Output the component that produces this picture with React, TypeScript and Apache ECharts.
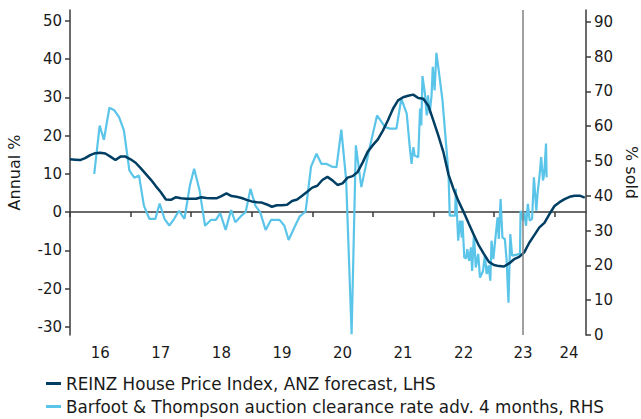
import React, { useEffect, useRef } from "react";
import * as echarts from "echarts";

// REINZ House Price Index (annual %), monthly from Jan 2016
const hpiStartYear = 2016;
const hpiValues = [
  13.8, 13.7, 13.6, 14.1, 14.9, 15.4, 15.5, 15.3, 14.5, 13.6, 14.5, 14.5,
  13.8, 12.9, 11.5, 10.0, 8.5, 6.8, 5.2, 3.3, 3.2, 3.9, 3.6, 3.5,
  3.5, 3.5, 3.9, 3.7, 3.6, 3.6, 4.2, 4.9, 4.2, 4.0, 3.7, 3.2,
  2.8, 2.6, 2.5, 2.0, 1.4, 1.8, 1.8, 1.9, 2.9, 3.3, 4.3, 5.3,
  6.4, 6.9, 8.4, 9.2, 8.3, 7.1, 7.5, 9.0, 9.4, 10.5, 13.0, 15.8,
  17.5, 19.0, 21.3, 24.0, 27.0, 29.2, 30.0, 30.4, 30.7, 29.8, 29.6, 27.8,
  23.9, 19.9, 15.6, 9.8, 6.0, 2.8, 0.0, -3.0, -5.9, -8.7, -10.9, -13.0,
  -13.8, -14.1, -14.2, -13.4, -12.3, -11.7, -10.5, -8.0, -6.0, -4.0, -2.8, -0.5,
  1.6, 2.6, 3.4, 4.0, 4.3, 4.3, 3.8,
];

// Barfoot & Thompson clearance rate (% sold), advanced 4 months
const clearanceDates = [
  2016.40, 2016.49, 2016.56, 2016.65, 2016.73, 2016.81, 2016.89, 2016.98,
  2017.06, 2017.14, 2017.22, 2017.31, 2017.41, 2017.48, 2017.56, 2017.64, 2017.72, 2017.80, 2017.89, 2017.98,
  2018.05, 2018.14, 2018.23, 2018.33, 2018.41, 2018.48, 2018.57, 2018.66, 2018.73, 2018.83, 2018.90, 2018.98,
  2019.06, 2019.14, 2019.23, 2019.32, 2019.46, 2019.54, 2019.61, 2019.71, 2019.79, 2019.89, 2019.98,
  2020.07, 2020.15, 2020.23, 2020.32, 2020.40, 2020.48, 2020.56, 2020.65, 2020.72, 2020.81, 2020.95,
  2021.07, 2021.20, 2021.28, 2021.39, 2021.47, 2021.56, 2021.61, 2021.64, 2021.67, 2021.69, 2021.75,
  2021.78, 2021.80, 2021.82, 2021.86, 2021.89, 2021.91, 2021.94, 2021.97, 2021.99,
  2022.02, 2022.05, 2022.08, 2022.15, 2022.25, 2022.27, 2022.36, 2022.37, 2022.41, 2022.44, 2022.47, 2022.48,
  2022.51, 2022.54, 2022.56, 2022.59, 2022.62, 2022.64, 2022.67, 2022.70, 2022.74, 2022.77, 2022.82, 2022.85,
  2022.88, 2022.91, 2022.94, 2022.96, 2022.99,
  2023.02, 2023.06, 2023.08, 2023.11, 2023.14, 2023.18, 2023.21, 2023.24, 2023.27, 2023.30, 2023.38, 2023.43,
  2023.44, 2023.48, 2023.50, 2023.53, 2023.56, 2023.59, 2023.63, 2023.66, 2023.70, 2023.72, 2023.75, 2023.78,
  2023.81, 2023.83, 2023.86, 2023.87,
];
const clearanceValues = [
  46.3, 60.2, 56.1, 65.3, 64.6, 62.6, 58.8, 47.3,
  45.2, 45.8, 37.2, 33.4, 33.4, 37.8, 33.4, 31.4, 33.4, 35.7, 33.4, 43.0,
  47.8, 41.5, 31.4, 33.1, 33.1, 35.0, 30.2, 35.9, 32.4, 34.3, 35.3, 42.0,
  37.2, 35.3, 30.2, 33.1, 33.1, 31.4, 27.3, 31.1, 34.0, 35.5, 48.4,
  52.1, 49.2, 49.2, 48.4, 48.2, 59.0, 44.5, 0.2, 54.5, 42.5, 54.0,
  63.1, 59.8, 59.3, 59.3, 67.9, 63.6, 54.0, 49.2, 54.0, 51.6, 51.1,
  65.1, 60.2, 74.4, 69.4, 63.1, 68.9, 63.6, 68.9, 77.1,
  70.3, 81.1, 77.1, 67.5, 46.3, 34.3, 34.3, 42.0, 27.1, 32.9, 28.0, 32.9,
  22.3, 22.0, 24.7, 21.3, 25.2, 18.4, 29.0, 19.4, 23.3, 16.5, 18.4, 22.8,
  17.5, 20.0, 15.6, 27.1, 21.8,
  27.1, 33.8, 27.6, 39.1, 28.0, 27.6, 21.3, 9.3, 29.0, 22.8, 23.1, 23.3,
  35.7, 32.9, 35.3, 31.4, 37.7, 32.9, 33.4, 45.3, 35.7, 40.6, 45.3, 51.1,
  44.4, 46.3, 55.0, 45.3,
];

const leftTicks = [-30, -20, -10, 0, 10, 20, 30, 40, 50];
const rightTicks = [0, 10, 20, 30, 40, 50, 60, 70, 80, 90];
const yearTicks = [2016, 2017, 2018, 2019, 2020, 2021, 2022, 2023, 2024];
const yearLabelPositions = [2016.5, 2017.5, 2018.5, 2019.5, 2020.5, 2021.5, 2022.5, 2023.48, 2024.24];
const yearLabels = ["16", "17", "18", "19", "20", "21", "22", "23", "24"];
const forecastLine = 2023.48;

const hpiName = "REINZ House Price Index, ANZ forecast, LHS";
const clearanceName = "Barfoot & Thompson auction clearance rate adv. 4 months, RHS";

const DARK = "#003f63";
const LIGHT = "#5bc5e9";
const AXIS = "#3a3a3a";
const FONT = "DejaVu Sans, Verdana, sans-serif";

export default function App() {
  const ref = useRef<HTMLDivElement>(null);
  useEffect(() => {
    if (!ref.current) return;
    const chart = echarts.init(ref.current, undefined, { renderer: "svg" });
    const hpiData = hpiValues.map((v, i) => [hpiStartYear + i / 12, v]);
    const clearanceData = clearanceDates.map((d, i) => [d, clearanceValues[i]]);
    chart.setOption({
      animation: false,
      textStyle: { fontFamily: FONT },
      grid: { left: 70, right: 55, top: 10, bottom: 84, outerBoundsMode: "none", containLabel: false },
      legend: {
        orient: "vertical",
        left: 46,
        top: 374,
        padding: 0,
        itemWidth: 15,
        itemHeight: 3,
        itemGap: 4,
        icon: "rect",
        data: [hpiName, clearanceName],
        textStyle: { fontFamily: FONT, fontSize: 16.8, lineHeight: 19, color: "#1a1a1a" },
      },
      xAxis: {
        type: "value",
        min: 2016,
        max: 2024.52,
        splitLine: { show: false },
        axisLine: { show: true, lineStyle: { color: AXIS, width: 1.5 } },
        axisTick: { show: true, customValues: yearTicks, length: 5, lineStyle: { color: AXIS, width: 1.5 } },
        axisLabel: {
          customValues: yearLabelPositions,
          formatter: (v: number) => yearLabels[yearLabelPositions.indexOf(v)] ?? "",
          fontSize: 15,
          color: "#1a1a1a",
          margin: 10,
          fontFamily: FONT,
        },
      },
      yAxis: [
        {
          type: "value",
          position: "left",
          min: -32.1,
          max: 52.8,
          name: "Annual %",
          nameLocation: "middle",
          nameRotate: 90,
          nameGap: 48,
          nameTextStyle: { fontSize: 16, color: "#1a1a1a", fontFamily: FONT },
          splitLine: { show: false },
          axisLine: { show: true, lineStyle: { color: AXIS, width: 1.5 } },
          axisTick: { show: true, customValues: leftTicks, length: 5, lineStyle: { color: AXIS, width: 1.5 } },
          axisLabel: { customValues: leftTicks, fontSize: 15, color: "#1a1a1a", margin: 8, fontFamily: FONT },
        },
        {
          type: "value",
          position: "right",
          min: 0,
          max: 93.4,
          name: "% sold",
          nameLocation: "middle",
          nameRotate: -90,
          nameGap: 35,
          nameTextStyle: { fontSize: 16, color: "#1a1a1a", fontFamily: FONT },
          splitLine: { show: false },
          axisLine: { show: true, lineStyle: { color: AXIS, width: 1.5 } },
          axisTick: { show: true, customValues: rightTicks, length: 5, lineStyle: { color: AXIS, width: 1.5 } },
          axisLabel: { customValues: rightTicks, fontSize: 15, color: "#1a1a1a", margin: 8, fontFamily: FONT },
        },
      ],
      series: [
        {
          name: clearanceName,
          type: "line",
          yAxisIndex: 1,
          data: clearanceData,
          showSymbol: false,
          symbol: "none",
          lineStyle: { color: LIGHT, width: 2.2 },
          itemStyle: { color: LIGHT },
          z: 2,
        },
        {
          name: hpiName,
          type: "line",
          yAxisIndex: 0,
          data: hpiData,
          showSymbol: false,
          symbol: "none",
          smooth: false,
          lineStyle: { color: DARK, width: 2.5 },
          itemStyle: { color: DARK },
          z: 3,
          markLine: {
            silent: true,
            symbol: ["none", "none"],
            label: { show: false },
            lineStyle: { color: "#808080", width: 1.5, type: "solid" },
            data: [{ xAxis: forecastLine }],
          },
        },
      ],
    });
    return () => chart.dispose();
  }, []);
  return <div ref={ref} style={{ width: 641, height: 419, position: "absolute", left: 0, top: 0 }} />;
}
